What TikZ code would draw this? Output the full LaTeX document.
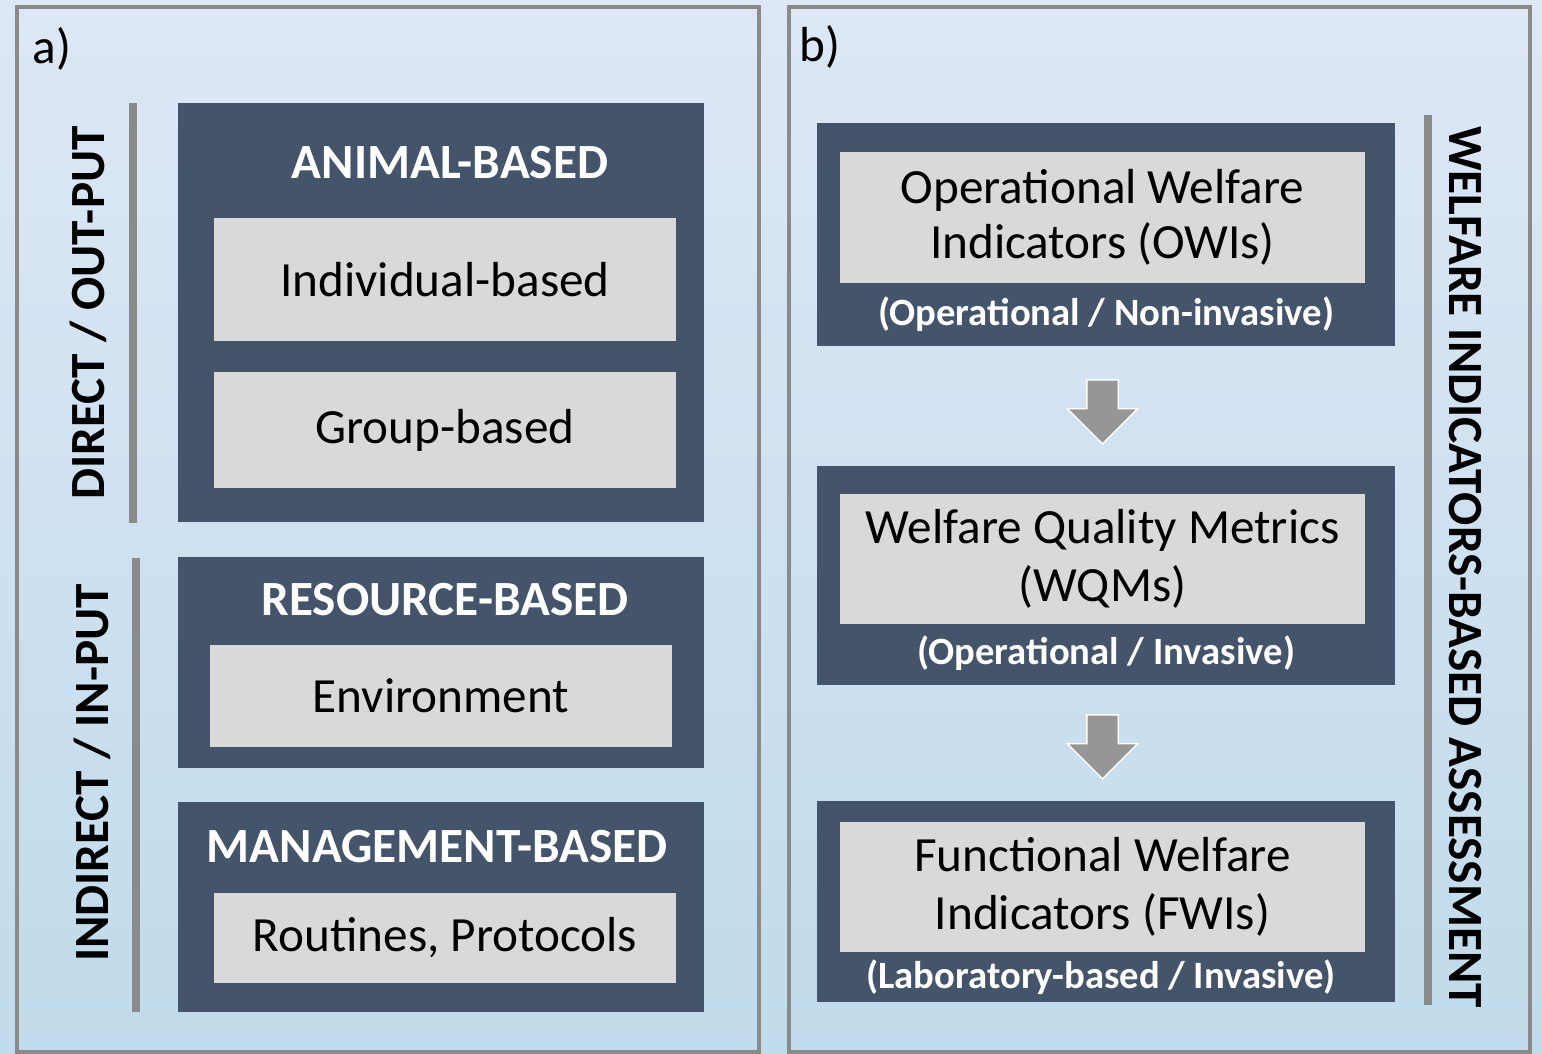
\documentclass[tikz,border=0pt]{standalone}
\usepackage{fontspec}
\setmainfont{Carlito}
\usepackage{xcolor}
\usepackage{tikz}
\usetikzlibrary{positioning,shapes.arrows}

\definecolor{bgtop}{RGB}{221,231,246}
\definecolor{bgbot}{RGB}{192,219,235}
\definecolor{boxdark}{RGB}{68,84,106}
\definecolor{boxlight}{RGB}{217,217,217}
\definecolor{framegray}{RGB}{138,138,138}
\definecolor{arrgray}{RGB}{150,150,150}

\tikzset{
  panel/.style={draw=framegray, line width=1.2pt, inner sep=0pt},
  darkbox/.style={fill=boxdark, inner sep=0pt},
  lightbox/.style={fill=boxlight, inner sep=0pt, align=center,
    font=\fontsize{14pt}{16.4pt}\selectfont},
  boxtitle/.style={text=white, inner sep=0pt, font=\fontsize{14pt}{16pt}\selectfont\bfseries},
  boxsub/.style={text=white, inner sep=0pt, font=\fontsize{11pt}{13pt}\selectfont\bfseries},
  sidetext/.style={inner sep=0pt, font=\fontsize{14pt}{16pt}\selectfont\bfseries},
  sidebar/.style={draw=framegray, line width=2.2pt},
  downarrow/.style={single arrow, rotate=-90, fill=arrgray, draw=white,
    line width=0.4pt, inner xsep=0pt, inner ysep=0.15cm, minimum height=0.64cm,
    single arrow head extend=0.195cm}
}

\begin{document}
\begin{tikzpicture}
  % fond
  \shade[top color=bgtop, bottom color=bgbot] (0,0) rectangle (15.42,-10.54);
  \useasboundingbox (0,0) rectangle (15.42,-10.54);

  % cadres
  \node[panel, minimum width=7.42cm, minimum height=10.45cm] (pa) at (3.88,-5.295) {};
  \node[panel, minimum width=7.41cm, minimum height=10.45cm] (pb) at (11.595,-5.295) {};
  \node[font=\fontsize{14pt}{16pt}\selectfont] (la) at (0.52,-0.49) {a)};
  \node[font=\fontsize{14pt}{16pt}\selectfont] (lb) at (8.20,-0.47) {b)};

  % a) direct / indirect
  \coordinate (d1) at (1.33,-1.03);
  \coordinate (d2) at (1.33,-5.23);
  \coordinate (i1) at (1.36,-5.58);
  \coordinate (i2) at (1.36,-10.12);
  \draw[sidebar] (d1) -- (d2);
  \draw[sidebar] (i1) -- (i2);
  \node[sidetext, rotate=90] (direct) at (0.88,-3.13) {DIRECT / OUT-PUT};
  \node[sidetext, rotate=90] (indirect) at (0.92,-7.73) {INDIRECT / IN-PUT};

  % animal-based
  \node[darkbox, minimum width=5.26cm, minimum height=4.19cm] (animal) at (4.41,-3.125) {};
  \node[boxtitle] (animalt) at (4.50,-1.63) {ANIMAL-BASED};
  \node[lightbox, minimum width=4.62cm, minimum height=1.23cm] (indiv) at (4.45,-2.795) {Individual-based};
  \node[lightbox, minimum width=4.62cm, minimum height=1.16cm] (group) at (4.45,-4.30) {Group-based};

  % resource-based
  \node[darkbox, minimum width=5.26cm, minimum height=2.11cm] (resource) at (4.41,-6.625) {};
  \node[boxtitle] (resourcet) at (4.45,-6.00) {RESOURCE-BASED};
  \node[lightbox, minimum width=4.62cm, minimum height=1.02cm] (env) at (4.41,-6.96) {Environment};

  % management-based
  \node[darkbox, minimum width=5.26cm, minimum height=2.10cm] (manag) at (4.41,-9.07) {};
  \node[boxtitle] (managt) at (4.37,-8.47) {MANAGEMENT-BASED};
  \node[lightbox, minimum width=4.62cm, minimum height=0.90cm] (rout) at (4.45,-9.38) {Routines, Protocols};

  % b) indicateurs
  \node[darkbox, minimum width=5.78cm, minimum height=2.23cm] (owi) at (11.06,-2.345) {};
  \node[lightbox, minimum width=5.25cm, minimum height=1.31cm] (owit) at (11.025,-2.175) {\raisebox{-0.03cm}{Operational Welfare}\\Indicators (OWIs)};
  \node[boxsub] (owis) at (11.06,-3.14) {(Operational / Non-invasive)};

  \node[darkbox, minimum width=5.78cm, minimum height=2.19cm] (wqm) at (11.06,-5.755) {};
  \node[lightbox, minimum width=5.25cm, minimum height=1.30cm] (wqmt) at (11.025,-5.59) {Welfare Quality Metrics\\(WQMs)};
  \node[boxsub] (wqms) at (11.06,-6.53) {(Operational / Invasive)};

  \node[darkbox, minimum width=5.78cm, minimum height=2.01cm] (fwi) at (11.06,-9.015) {};
  \node[lightbox, minimum width=5.25cm, minimum height=1.30cm] (fwit) at (11.025,-8.87) {Functional Welfare\\Indicators (FWIs)};
  \node[boxsub] (fwis) at (11.01,-9.77) {(Laboratory-based / Invasive)};

  % fleches
  \node[downarrow] (arr1) at (11.025,-4.04) {};
  \node[downarrow] (arr2) at (11.025,-7.39) {};

  % assessment
  \coordinate (w1) at (14.28,-1.15);
  \coordinate (w2) at (14.28,-10.05);
  \draw[sidebar] (w1) -- (w2);
  \node[sidetext, rotate=-90] (assess) at (14.65,-5.67) {WELFARE INDICATORS-BASED ASSESSMENT};
\end{tikzpicture}
\end{document}
